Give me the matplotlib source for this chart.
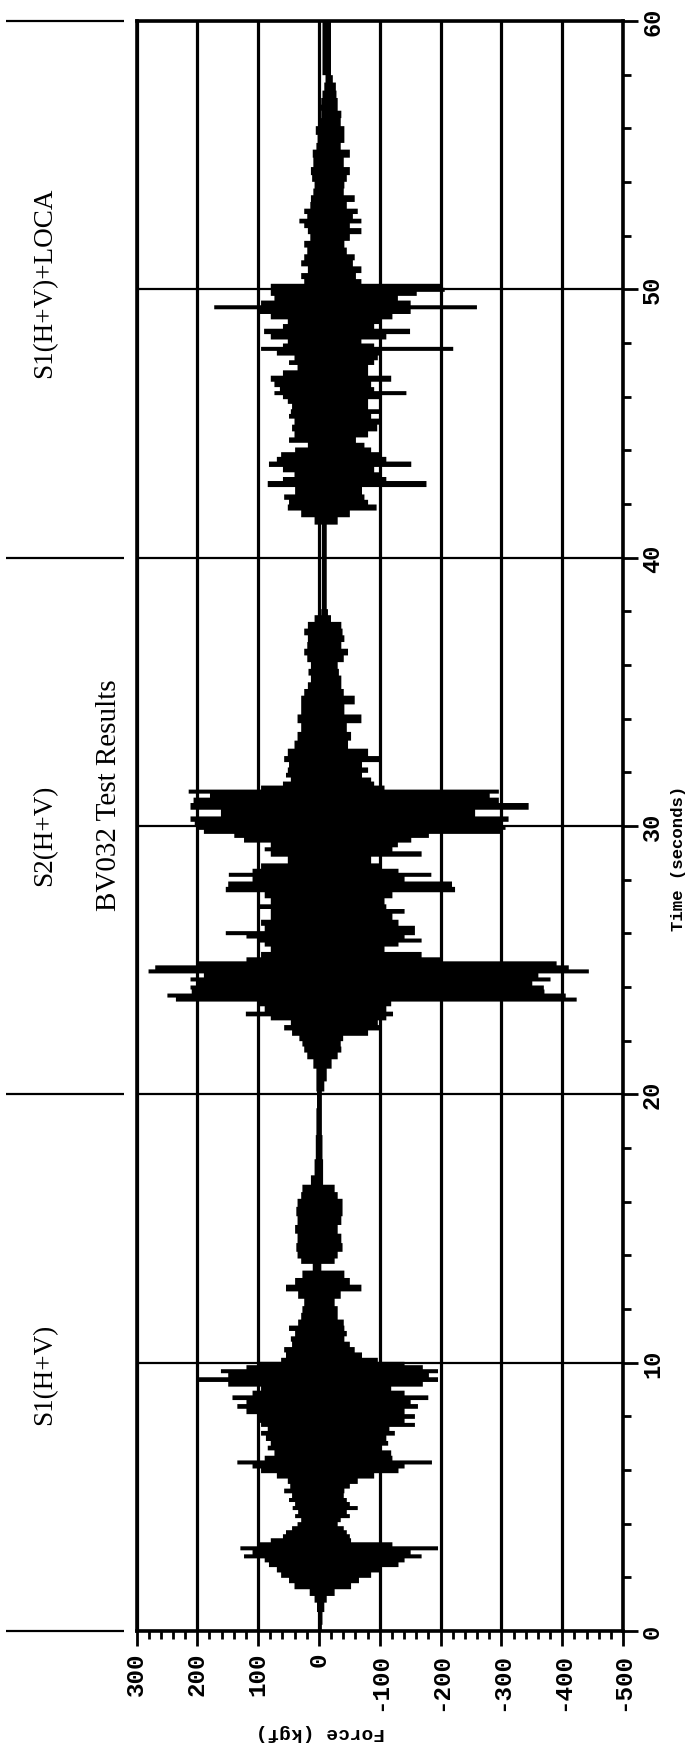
import matplotlib
matplotlib.use("Agg")
import matplotlib.pyplot as plt
from matplotlib.ticker import MultipleLocator

# ---------------- data ----------------
time_s = [0.0, 0.5, 0.95, 1.2, 1.45, 1.7, 1.9, 2.1, 2.3, 2.5, 2.65, 2.8, 2.95, 3.1, 3.25, 3.4, 3.55, 3.7, 3.85, 4.0,
          4.15, 4.3, 4.45, 4.6, 4.75, 4.9, 5.05, 5.25, 5.4, 5.6, 5.8, 6.0, 6.15, 6.3, 6.45, 6.65, 6.85, 7.0, 7.2, 7.4,
          7.55, 7.7, 7.85, 8.0, 8.2, 8.4, 8.55, 8.7, 8.9, 9.05, 9.2, 9.4, 9.55, 9.7, 9.85, 10.0, 10.1, 10.3, 10.5, 10.7,
          10.9, 11.1, 11.3, 11.5, 11.75, 12.0, 12.25, 12.55, 12.8, 13.05, 13.3, 13.6, 13.8, 14.0, 14.3, 14.65, 15.0, 15.3, 15.65, 16.0,
          16.25, 16.5, 16.8, 17.2, 18.0, 19.0, 20.0, 20.25, 20.75, 21.2, 21.45, 21.7, 21.9, 22.1, 22.3, 22.5, 22.7, 22.85, 23.0, 23.2,
          23.4, 23.55, 23.7, 23.85, 24.0, 24.15, 24.3, 24.45, 24.6, 24.75, 24.9, 25.05, 25.2, 25.45, 25.6, 25.75, 25.9, 26.0, 26.2, 26.4,
          26.65, 26.85, 27.0, 27.2, 27.45, 27.65, 27.85, 28.05, 28.2, 28.35, 28.5, 28.75, 29.0, 29.15, 29.3, 29.5, 29.65, 29.8, 29.95, 30.1,
          30.25, 30.5, 30.75, 31.0, 31.15, 31.3, 31.45, 31.6, 31.75, 31.9, 32.1, 32.3, 32.5, 32.75, 33.05, 33.35, 33.7, 34.0, 34.35, 34.75,
          35.0, 35.25, 35.5, 35.75, 36.0, 36.25, 36.5, 36.75, 37.0, 37.25, 37.5, 37.75, 38.0, 38.2, 39.0, 40.0, 41.1, 41.4, 41.65, 41.9,
          42.1, 42.25, 42.5, 42.8, 42.95, 43.1, 43.3, 43.5, 43.7, 43.85, 44.05, 44.2, 44.4, 44.6, 44.85, 45.1, 45.3, 45.45, 45.65, 45.85,
          46.0, 46.15, 46.3, 46.45, 46.7, 46.9, 47.1, 47.3, 47.45, 47.65, 47.8, 47.95, 48.05, 48.25, 48.45, 48.65, 48.8, 49.0, 49.2, 49.35,
          49.5, 49.7, 49.85, 50.0, 50.15, 50.3, 50.5, 50.75, 51.0, 51.2, 51.45, 51.7, 51.95, 52.2, 52.4, 52.55, 52.75, 52.9, 53.15, 53.4,
          53.65, 53.9, 54.15, 54.4, 54.75, 55.1, 55.35, 55.6, 55.95, 56.25, 56.55, 56.8, 57.0, 57.3, 57.55, 57.9, 58.1, 60.0]

force_max = [2, 2, 4, 8, 16, 41, 50, 63, 70, 83, 90, 124, 110, 130, 100, 80, 60, 55, 45, 36,
             30, 40, 35, 44, 40, 50, 45, 58, 48, 52, 70, 96, 110, 135, 90, 74, 85, 80, 88, 96,
             85, 96, 100, 102, 120, 135, 120, 143, 110, 96, 150, 198, 150, 162, 120, 100, 63, 55, 58, 45,
             47, 40, 50, 35, 30, 28, 25, 35, 55, 40, 28, 11, 30, 36, 38, 36, 40, 36, 38, 36,
             30, 28, 14, 8, 6, 5, 4, 5, 5, 10, 20, 25, 28, 33, 45, 58, 47, 80, 121, 90,
             102, 236, 250, 210, 212, 200, 212, 190, 281, 270, 200, 120, 96, 80, 90, 102, 120, 154, 90, 96,
             80, 80, 100, 80, 90, 154, 150, 110, 149, 110, 96, 52, 80, 90, 80, 124, 140, 190, 200, 205,
             212, 162, 212, 207, 180, 215, 96, 60, 47, 55, 52, 50, 58, 52, 41, 36, 30, 36, 30, 30,
             25, 19, 14, 18, 14, 20, 25, 20, 19, 25, 19, 8, -3, -4, -4, -4, -4, 8, 30, 52,
             50, 58, 40, 85, 60, 41, 60, 83, 70, 63, 40, 19, 50, 41, 45, 41, 50, 47, 45, 52,
             60, 74, 65, 74, 80, 60, 36, 50, 41, 70, 96, 60, 52, 80, 91, 60, 52, 80, 100, 173,
             96, 74, 80, 80, 80, 25, 30, 19, 30, 25, 20, 25, 15, 19, 25, 33, 20, 25, 15, 14,
             10, 8, 12, 14, 10, 11, 5, 3, 6, 0, -3, -2, -3, -5, -8, -10, -5, -5]

force_min = [-4, -5, -8, -12, -25, -52, -65, -85, -100, -130, -140, -168, -150, -195, -120, -52, -50, -45, -40, -30,
             -35, -50, -45, -63, -50, -45, -40, -41, -50, -63, -90, -130, -140, -185, -120, -118, -100, -113, -110, -124,
             -115, -157, -140, -157, -140, -162, -150, -179, -140, -118, -170, -195, -180, -195, -170, -140, -96, -70, -58, -50,
             -41, -45, -41, -40, -30, -30, -25, -35, -69, -50, -41, -3, -25, -30, -38, -36, -30, -36, -38, -38,
             -30, -25, -6, -6, -5, -4, -4, -8, -12, -20, -30, -36, -35, -39, -80, -102, -96, -110, -121, -110,
             -118, -423, -405, -370, -369, -350, -380, -360, -443, -410, -390, -200, -168, -107, -130, -168, -140, -157, -157, -130,
             -120, -140, -110, -107, -120, -223, -218, -140, -184, -130, -102, -85, -168, -120, -129, -151, -180, -300, -306, -300,
             -311, -256, -344, -295, -280, -295, -107, -90, -85, -70, -80, -70, -102, -80, -47, -52, -45, -69, -41, -58,
             -40, -36, -36, -32, -30, -40, -47, -36, -41, -38, -36, -19, -14, -12, -12, -12, -12, -30, -50, -94,
             -80, -74, -70, -176, -110, -102, -90, -151, -110, -102, -85, -74, -60, -80, -95, -102, -85, -102, -80, -80,
             -100, -143, -90, -85, -118, -80, -80, -90, -96, -100, -220, -90, -69, -110, -149, -90, -102, -120, -150, -259,
             -150, -129, -160, -206, -203, -69, -60, -69, -55, -58, -45, -41, -50, -69, -50, -69, -55, -63, -45, -58,
             -40, -41, -45, -50, -40, -50, -35, -41, -41, -35, -36, -30, -30, -28, -27, -22, -19, -19]

force_ticks = [300, 200, 100, 0, -100, -200, -300, -400, -500]
time_ticks = [0, 10, 20, 30, 40, 50, 60]
segment_bounds = [0, 20, 40, 60]
segment_labels = ["S1(H+V)", "S2(H+V)", "S1(H+V)+LOCA"]
segment_centers = [9.6, 29.7, 50.3]
title_text = "BV032 Test Results"
title_time = 31.2
x_label = "Force (kgf)"
y_label = "Time (seconds)"

# ---------------- figure ----------------
W, H = 693, 1758
fig = plt.figure(figsize=(W / 100, H / 100), dpi=100)
fig.patch.set_facecolor("white")

ax_l, ax_r, ax_t, ax_b = 136.5, 623.0, 22.0, 1632.0
ax = fig.add_axes([ax_l / W, 1 - ax_b / H, (ax_r - ax_l) / W, (ax_b - ax_t) / H])

ax.fill_betweenx(time_s, force_min, force_max, step="mid", color="black", lw=0, zorder=3)

ax.set_xlim(300, -500)
ax.set_ylim(0, 60)

mono = "Liberation Mono"
serif = "Liberation Serif"

ax.set_xticks(force_ticks)
ax.set_xticklabels([str(v) for v in force_ticks], rotation=90, family=mono,
                   fontweight="bold", fontsize=17.5)
ax.xaxis.set_minor_locator(MultipleLocator(20))

ax.yaxis.tick_right()
ax.set_yticks(time_ticks)
ax.set_yticklabels([str(v) for v in time_ticks], rotation=90, family=mono,
                   fontweight="bold", fontsize=17, va="center")
ax.yaxis.set_minor_locator(MultipleLocator(2))

ax.grid(axis="x", which="major", color="black", lw=2.3, zorder=2)
ax.grid(axis="y", which="major", color="black", lw=1.6, zorder=2)
ax.set_axisbelow(True)

ax.tick_params(axis="both", which="major", length=11, width=2, direction="out", color="black", pad=3)
ax.tick_params(axis="both", which="minor", length=6, width=2, direction="out", color="black")
ax.tick_params(axis="x", which="major", pad=4)
ax.tick_params(axis="y", which="major", pad=2)

for s in ax.spines.values():
    s.set_linewidth(2.6)
    s.set_color("black")

# axis labels
fig.text(320 / W, 1 - 1733 / H, x_label, rotation=180, ha="center", va="center",
         family=mono, fontweight="bold", fontsize=14)
fig.text(678 / W, 1 - 858 / H, y_label, rotation=90, ha="center", va="center",
         family=mono, fontweight="bold", fontsize=12.5)

# segment annotations on the left
ytrans = ax.get_yaxis_transform()
ax.hlines(segment_bounds, -0.268, -0.026, transform=ytrans, clip_on=False,
          color="black", lw=1.6)
for lab, tc in zip(segment_labels, segment_centers):
    ax.text(-0.188, tc, lab, transform=ytrans, rotation=90, ha="center", va="center",
            family=serif, fontsize=19.5)
ax.text(-0.057, title_time, title_text, transform=ytrans, rotation=90, ha="center",
        va="center", family=serif, fontsize=21)

fig.savefig("out.png", dpi=100, facecolor="white")
